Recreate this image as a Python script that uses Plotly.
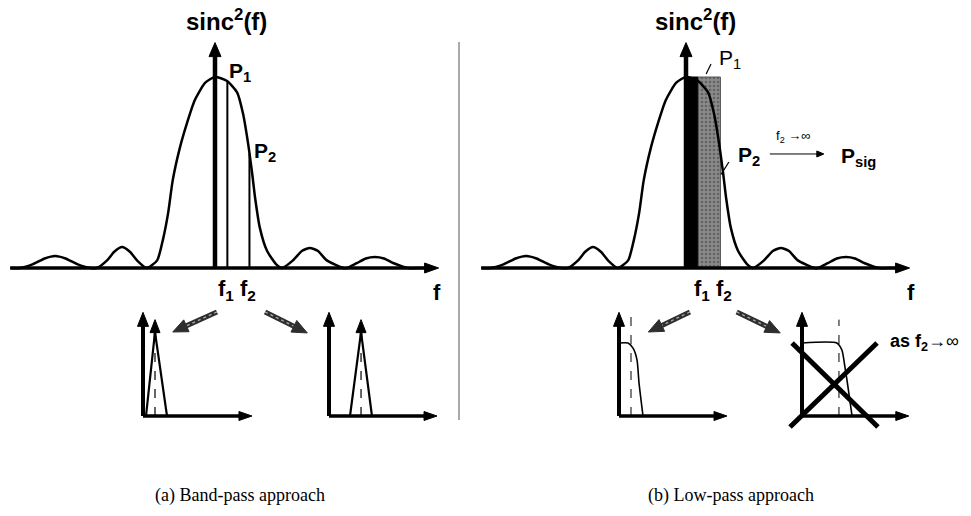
import math
import numpy as np
import plotly.graph_objects as go

W, H = 971, 516

# ---------------------------------------------------------------------------
# Main spectrum sketch: normalised frequency f vs normalised power sinc^2(f)
# ---------------------------------------------------------------------------
F_MAIN = [-3.15, -3.0, -2.8, -2.62, -2.46, -2.3, -2.12, -1.92, -1.82, -1.66,
          -1.55, -1.43, -1.31, -1.2, -1.05, -0.89, -0.8, -0.72, -0.65, -0.54,
          -0.43, -0.31, -0.15, 0.0, 0.18, 0.34, 0.43, 0.51, 0.57, 0.62,
          0.69, 0.8, 0.95, 1.03, 1.2, 1.34, 1.46, 1.58, 1.72, 1.97,
          2.03, 2.18, 2.32, 2.46, 2.6, 2.75, 2.97, 3.2, 3.38]
S_MAIN = [0.0, 0.0, 0.02, 0.05, 0.063, 0.05, 0.02, 0.0, 0.0, 0.04,
          0.085, 0.11, 0.085, 0.04, 0.0, 0.04, 0.15, 0.29, 0.46, 0.63,
          0.76, 0.88, 0.97, 1.0, 0.98, 0.92, 0.81, 0.65, 0.5, 0.36,
          0.21, 0.09, 0.016, 0.0, 0.04, 0.09, 0.105, 0.09, 0.04, 0.0,
          0.0, 0.025, 0.05, 0.058, 0.05, 0.025, 0.0, 0.0, 0.0]

F1, F2 = 0.19, 0.53            # filter edge frequencies
F_AXIS = (-3.15, 3.44)         # frequency axis extent
S_AXIS_TOP = 1.18              # power axis extent

# ---------------------------------------------------------------------------
# Inset sketches (filter output spectra)
# ---------------------------------------------------------------------------
INSET_X_END = [9.08, 9.0, 9.0, 8.9]
INSET_Y_TOP = 1.42

BP_PEAKS = [1.0, 2.67]                     # band-pass tone position
BP_BASES = [(0.25, 2.0), (1.75, 3.58)]     # foot of each triangular peak
BP_APEX, BP_TIP = 1.15, 1.32

LP_LEFT_F = [0.0, 0.75, 1.17, 1.5, 1.67, 2.0]
LP_LEFT_S = [1.0, 1.0, 0.93, 0.77, 0.45, 0.0]
LP_RIGHT_F = [0.0, 2.9, 3.33, 3.58, 3.83, 4.17]
LP_RIGHT_S = [1.0, 1.0, 0.9, 0.67, 0.4, 0.0]
LP_CUTS = [1.0, 3.08]
LP_CUT_TOPS = [1.38, 1.32]

CROSS_A_X, CROSS_A_Y = [-0.83, 6.33], [1.0, -0.15]
CROSS_B_X, CROSS_B_Y = [-1.0, 6.25], [-0.15, 1.0]

CAPTIONS = ["(a) Band-pass approach", "(b) Low-pass approach"]

# ---------------------------------------------------------------------------
# Layout frames: every sketch gets its own (invisible) pair of axes spanning
# the whole page; origin pixel and pixels-per-unit position each sketch.
# ---------------------------------------------------------------------------
FRAMES = {
    "": (215, 268, 65, 191),     # band-pass main spectrum
    "2": (686, 268, 65, 191),    # low-pass main spectrum
    "3": (143, 416, 12, 73),     # band-pass inset, lower tone
    "4": (329, 416, 12, 73),     # band-pass inset, upper tone
    "5": (619, 416, 12, 73),     # low-pass inset
    "6": (802, 416, 12, 73),     # low-pass inset, f2 -> infinity
}

fig = go.Figure()
layout_axes = {}
for k, (ox, oy, sx, sy) in FRAMES.items():
    layout_axes["xaxis" + k] = dict(visible=False, domain=[0, 1], fixedrange=True,
                                    range=[-ox / sx, (W - ox) / sx], anchor="y" + k)
    layout_axes["yaxis" + k] = dict(visible=False, domain=[0, 1], fixedrange=True,
                                    range=[(oy - H) / sy, oy / sy], anchor="x" + k)

annotations = []
BOLD = "Liberation Sans, Arial, sans-serif"


def ax_ids(k):
    return ("x" + k, "y" + k)


def line(k, xs, ys, width=2.0, color="black", dash="solid", shape="linear"):
    xr, yr = ax_ids(k)
    fig.add_trace(go.Scatter(x=xs, y=ys, xaxis=xr, yaxis=yr, mode="lines",
                             line=dict(color=color, width=width, dash=dash,
                                       shape=shape, smoothing=0.6),
                             hoverinfo="skip", showlegend=False))


def arrow(k, x0, y0, x1, y1, width, head_len=12, head_w=10, color="black",
          hatch=None):
    """Shaft plus a filled triangular head whose tip sits on (x1, y1)."""
    xr, yr = ax_ids(k)
    sx, sy = FRAMES[k][2], FRAMES[k][3]
    dxp, dyp = (x1 - x0) * sx, (y1 - y0) * sy
    length = math.hypot(dxp, dyp)
    ux, uy = dxp / length, dyp / length
    nx, ny = -uy, ux
    bx, by = -ux * head_len, -uy * head_len
    hx = [x1, x1 + (bx + nx * head_w / 2) / sx, x1 + (bx - nx * head_w / 2) / sx, x1]
    hy = [y1, y1 + (by + ny * head_w / 2) / sy, y1 + (by - ny * head_w / 2) / sy, y1]
    xe = x1 - ux * head_len * 0.7 / sx
    ye = y1 - uy * head_len * 0.7 / sy
    line(k, [x0, xe], [y0, ye], width=width, color=color)
    if hatch:
        line(k, [x0, x1 - ux * head_len / sx], [y0, y1 - uy * head_len / sy],
             width=1.3, color=hatch, dash="dot")
    fig.add_trace(go.Scatter(x=hx, y=hy, xaxis=xr, yaxis=yr, mode="lines",
                             fill="toself", fillcolor=color,
                             line=dict(color=color, width=1),
                             hoverinfo="skip", showlegend=False))


def label(k, x, y, text, size, family=BOLD, xanchor="center", color="black"):
    xr, yr = ax_ids(k)
    annotations.append(dict(xref=xr, yref=yr, x=x, y=y, text=text, showarrow=False,
                            xanchor=xanchor, yanchor="middle",
                            font=dict(family=family, size=size, color=color)))


s_f1 = float(np.interp(F1, F_MAIN, S_MAIN))
s_f2 = float(np.interp(F2, F_MAIN, S_MAIN))
s_top = max(S_MAIN)

# ---------------- (a) band-pass main spectrum ----------------
line("", F_MAIN, S_MAIN, width=2.5, shape="spline")
line("", [F1, F1, None, F2, F2], [0, s_f1, None, 0, s_f2], width=2)
arrow("", F_AXIS[0], 0, F_AXIS[1], 0, width=3.5, head_len=14, head_w=10)
arrow("", 0, 0, 0, S_AXIS_TOP, width=4.5, head_len=14, head_w=12)
label("", 0.17, 1.30, "<b>sinc<sup>2</sup>(f)</b>", 24)
label("", 0.385, 1.026, "<b>P<sub>1</sub></b>", 21)
label("", 0.77, 0.607, "<b>P<sub>2</sub></b>", 21)
label("", 0.34, -0.115, "<b>f<sub>1</sub> f<sub>2</sub></b>", 22)
label("", 3.42, -0.126, "<b>f</b>", 22)
arrow("", 0.03, -0.23, -0.65, -0.335, width=5, head_len=15, head_w=13,
      color="#2e2e2e", hatch="#a8a8a8")
arrow("", 0.77, -0.23, 1.42, -0.34, width=5, head_len=15, head_w=13,
      color="#2e2e2e", hatch="#a8a8a8")

# ---------------- (b) low-pass main spectrum ----------------
xr, yr = ax_ids("2")
fig.add_trace(go.Scatter(x=[0, 0, F1, F1, 0], y=[0, s_top, s_top, 0, 0],
                         xaxis=xr, yaxis=yr, mode="lines", fill="toself",
                         fillcolor="black", line=dict(color="black", width=1),
                         hoverinfo="skip", showlegend=False))
fig.add_trace(go.Scatter(x=[F1, F1, F2, F2, F1], y=[0, s_top, s_top, 0, 0],
                         xaxis=xr, yaxis=yr, mode="lines", fill="toself",
                         fillcolor="#858585",
                         fillpattern=dict(shape=".", bgcolor="#8a8a8a",
                                          fgcolor="#3c3c3c", size=4, solidity=0.35),
                         line=dict(color="#555555", width=1),
                         hoverinfo="skip", showlegend=False))
line("2", F_MAIN, S_MAIN, width=2.5, shape="spline")
arrow("2", F_AXIS[0], 0, F_AXIS[1], 0, width=3.5, head_len=14, head_w=10)
arrow("2", 0, 0, 0, S_AXIS_TOP, width=4.5, head_len=14, head_w=12)
label("2", 0.14, 1.30, "<b>sinc<sup>2</sup>(f)</b>", 24)
label("2", 0.68, 1.094, "P<sub>1</sub>", 21)
label("2", 0.97, 0.586, "<b>P<sub>2</sub></b>", 21)
label("2", 0.415, -0.115, "<b>f<sub>1</sub> f<sub>2</sub></b>", 22)
label("2", 3.46, -0.126, "<b>f</b>", 22)
line("2", [0.31, 0.385], [1.016, 1.068], width=1.2)
line("2", [0.54, 0.66], [0.49, 0.555], width=1.2)
label("2", 1.65, 0.69, "f<sub>2</sub> →∞", 13)
arrow("2", 1.29, 0.597, 2.12, 0.597, width=1, head_len=7, head_w=6)
label("2", 2.65, 0.58, "<b>P<sub>sig</sub></b>", 21)
arrow("2", 0.06, -0.23, -0.58, -0.335, width=5, head_len=15, head_w=13,
      color="#2e2e2e", hatch="#a8a8a8")
arrow("2", 0.78, -0.23, 1.45, -0.34, width=5, head_len=15, head_w=13,
      color="#2e2e2e", hatch="#a8a8a8")

# ---------------- insets: axes ----------------
for i, k in enumerate(["3", "4", "5", "6"]):
    arrow(k, 0, 0, INSET_X_END[i], 0, width=3.5, head_len=13, head_w=9)
    arrow(k, 0, 0, 0, INSET_Y_TOP, width=4, head_len=14, head_w=11)

# band-pass outputs: a single narrow tone
for k, peak, (lo, hi) in zip(["3", "4"], BP_PEAKS, BP_BASES):
    line(k, [lo, peak, hi], [0, BP_APEX, 0], width=2.2)
    line(k, [peak, peak], [0, BP_APEX - 0.2], width=1.2, dash="dash")
    arrow(k, peak, BP_APEX - 0.1, peak, BP_TIP, width=2.5, head_len=13, head_w=10)

# low-pass outputs
line("5", LP_LEFT_F, LP_LEFT_S, width=1.6, shape="spline")
line("6", LP_RIGHT_F, LP_RIGHT_S, width=1.6, shape="spline")
for k, cut, top in zip(["5", "6"], LP_CUTS, LP_CUT_TOPS):
    line(k, [cut, cut], [0, top], width=1, dash="dash")
line("6", CROSS_A_X, CROSS_A_Y, width=5)
line("6", CROSS_B_X, CROSS_B_Y, width=5)
label("6", 7.17, 1.01, "<b>as f<sub>2</sub></b>→∞", 18, xanchor="left")

# ---------------- captions and divider ----------------
for cx, txt in zip([240, 731], CAPTIONS):
    annotations.append(dict(xref="paper", yref="paper", x=cx / W, y=1 - 495 / H,
                            text=txt, showarrow=False, xanchor="center",
                            yanchor="middle",
                            font=dict(family="Liberation Serif, Times New Roman, serif",
                                      size=18, color="black")))

fig.update_layout(
    width=W, height=H, margin=dict(l=0, r=0, t=0, b=0),
    paper_bgcolor="white", plot_bgcolor="rgba(0,0,0,0)",
    showlegend=False, annotations=annotations,
    shapes=[dict(type="line", xref="paper", yref="paper",
                 x0=459 / W, x1=459 / W, y0=1 - 42 / H, y1=1 - 420 / H,
                 line=dict(color="#555555", width=1))],
    **layout_axes,
)

fig.write_html("out.html")
